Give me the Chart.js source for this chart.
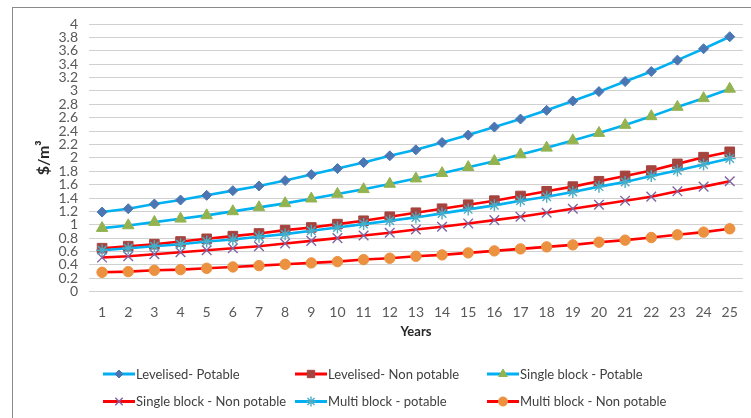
<!DOCTYPE html>
<html>
<head>
<meta charset="utf-8">
<script src="https://cdn.jsdelivr.net/npm/chart.js@4.4.1/dist/chart.umd.min.js"></script>
<style>
  html, body { margin: 0; padding: 0; background: #ffffff; }
  canvas { display: block; }
</style>
</head>
<body>
<canvas id="chart" width="751" height="418"></canvas>
<script>
// Years on the horizontal axis
const years = ['1','2','3','4','5','6','7','8','9','10','11','12','13','14','15','16','17','18','19','20','21','22','23','24','25'];

// Unit cost ($/m3) for each tariff structure
const levelisedPotable    = [1.19, 1.24, 1.31, 1.37, 1.44, 1.51, 1.58, 1.66, 1.75, 1.84, 1.93, 2.03, 2.12, 2.23, 2.34, 2.46, 2.58, 2.71, 2.85, 2.99, 3.14, 3.29, 3.46, 3.63, 3.81];
const levelisedNonPotable = [0.65, 0.68, 0.71, 0.75, 0.79, 0.83, 0.87, 0.92, 0.96, 1.01, 1.06, 1.12, 1.18, 1.24, 1.30, 1.36, 1.43, 1.50, 1.57, 1.65, 1.73, 1.81, 1.91, 2.01, 2.09];
const singleBlockPotable  = [0.95, 0.99, 1.04, 1.09, 1.14, 1.20, 1.26, 1.32, 1.39, 1.46, 1.53, 1.61, 1.69, 1.77, 1.86, 1.95, 2.05, 2.15, 2.26, 2.37, 2.49, 2.62, 2.76, 2.89, 3.03];
const singleBlockNonPot   = [0.51, 0.53, 0.56, 0.59, 0.62, 0.65, 0.68, 0.72, 0.76, 0.80, 0.84, 0.88, 0.93, 0.97, 1.02, 1.07, 1.12, 1.18, 1.24, 1.30, 1.36, 1.42, 1.50, 1.57, 1.65];
const multiBlockPotable   = [0.62, 0.65, 0.68, 0.71, 0.75, 0.78, 0.82, 0.86, 0.91, 0.96, 1.01, 1.06, 1.11, 1.17, 1.23, 1.29, 1.36, 1.42, 1.49, 1.57, 1.64, 1.73, 1.81, 1.90, 1.99];
const multiBlockNonPot    = [0.29, 0.30, 0.32, 0.33, 0.35, 0.37, 0.39, 0.41, 0.43, 0.45, 0.48, 0.50, 0.53, 0.55, 0.58, 0.61, 0.64, 0.67, 0.70, 0.74, 0.77, 0.81, 0.85, 0.89, 0.94];

// Value axis ticks
const yTickValues = [0, 0.2, 0.4, 0.6, 0.8, 1, 1.2, 1.4, 1.6, 1.8, 2, 2.2, 2.4, 2.6, 2.8, 3, 3.2, 3.4, 3.6, 3.8, 4];
const yTickLabels = ['0','0.2','0.4','0.6','0.8','1','1.2','1.4','1.6','1.8','2','2.2','2.4','2.6','2.8','3','3.2','3.4','3.6','3.8','4'];

const seriesNames = [
  'Levelised- Potable', 'Levelised- Non potable', 'Single block - Potable',
  'Single block - Non potable', 'Multi block - potable', 'Multi block - Non potable'
];

const BLUE_LINE = '#00b0f0';
const RED_LINE = '#ff0000';
const FONT = 'Lato, "Liberation Sans", Arial, sans-serif';

function series(i, data, lineColor, style, markerColor, radius, filled, legendRadius) {
  return {
    label: seriesNames[i],
    data: data,
    order: 10 - i,
    borderColor: lineColor,
    borderWidth: 2.6,
    tension: 0,
    fill: false,
    pointStyle: style,
    pointRadius: radius,
    pointHoverRadius: radius,
    pointBackgroundColor: filled ? markerColor : 'rgba(0,0,0,0)',
    pointBorderColor: markerColor,
    pointBorderWidth: filled ? 1 : 1.4,
    legendRadius: legendRadius
  };
}

const datasets = [
  series(0, levelisedPotable,    BLUE_LINE, 'rectRot',  '#4a76b4', 5,   true,  4),
  series(1, levelisedNonPotable, RED_LINE,  'rect',     '#a5443f', 6.8, true,  5.2),
  series(2, singleBlockPotable,  BLUE_LINE, 'triangle', '#93b350', 6.6, true,  5),
  series(3, singleBlockNonPot,   RED_LINE,  'crossRot', '#8064a2', 6.8, false, 5.2),
  series(4, multiBlockPotable,   BLUE_LINE, 'star',     '#4bacc6', 6,   false, 5),
  series(5, multiBlockNonPot,    RED_LINE,  'circle',   '#eb913f', 5.2, true,  4.5)
];

// Frame around the whole chart
const framePlugin = {
  id: 'frame',
  beforeDraw(chart) {
    const ctx = chart.ctx;
    ctx.save();
    ctx.fillStyle = '#ffffff';
    ctx.fillRect(0, 0, chart.width, chart.height);
    ctx.strokeStyle = '#8a8a8a';
    ctx.lineWidth = 1;
    ctx.strokeRect(12.5, 7.5, chart.width + 20, chart.height + 20);
    ctx.restore();
  }
};

// Two-row, three-column legend below the axis title
const gridLegendPlugin = {
  id: 'gridLegend',
  afterDraw(chart) {
    const ctx = chart.ctx;
    const colX = [103, 295, 487];
    const rowY = [374, 401.5];
    const lineLen = 32;
    ctx.save();
    chart.data.datasets.forEach((ds, i) => {
      const x0 = colX[i % 3];
      const y = rowY[Math.floor(i / 3)];
      ctx.strokeStyle = ds.borderColor;
      ctx.lineWidth = 3;
      ctx.beginPath();
      ctx.moveTo(x0, y);
      ctx.lineTo(x0 + lineLen, y);
      ctx.stroke();
      ctx.fillStyle = ds.pointBackgroundColor;
      ctx.strokeStyle = ds.pointBorderColor;
      ctx.lineWidth = ds.pointBorderWidth;
      Chart.helpers.drawPoint(ctx, {
        pointStyle: ds.pointStyle,
        radius: ds.legendRadius,
        borderWidth: ds.pointBorderWidth,
        rotation: 0
      }, x0 + lineLen / 2, y);
      // slightly condensed label text
      ctx.save();
      ctx.translate(x0 + lineLen + 1, y);
      ctx.scale(0.93, 1);
      ctx.fillStyle = '#404040';
      ctx.font = '14px ' + FONT;
      ctx.textBaseline = 'middle';
      ctx.textAlign = 'left';
      ctx.fillText(ds.label, 0, 0);
      ctx.restore();
    });
    ctx.restore();
  }
};

new Chart(document.getElementById('chart'), {
  type: 'line',
  data: { labels: years, datasets: datasets },
  plugins: [framePlugin, gridLegendPlugin],
  options: {
    responsive: false,
    devicePixelRatio: 1,
    animation: false,
    events: [],
    layout: { padding: { left: 0, right: 4, top: 24, bottom: 0 } },
    plugins: {
      legend: { display: false },
      tooltip: { enabled: false },
      title: { display: false }
    },
    scales: {
      x: {
        type: 'category',
        offset: true,
        grid: { display: false, drawTicks: false },
        border: { display: false },
        ticks: {
          color: '#595959',
          font: { family: FONT, size: 14 },
          padding: 12,
          maxRotation: 0,
          autoSkip: false
        },
        title: {
          display: true,
          text: 'Years',
          color: '#262626',
          font: { family: FONT, size: 13, weight: 'bold' },
          padding: { top: 0, bottom: 78 }
        },
        afterFit(scale) { scale.height = 126.3; }
      },
      y: {
        min: 0,
        max: 4,
        grid: { color: '#d0d0d0', lineWidth: 1, drawTicks: false },
        border: { display: false },
        afterBuildTicks(scale) {
          scale.ticks = yTickValues.map(v => ({ value: v }));
        },
        ticks: {
          color: '#595959',
          font: { family: FONT, size: 14 },
          padding: 11,
          autoSkip: false,
          callback: (value, index) => yTickLabels[index]
        },
        title: {
          display: true,
          text: '$/m³',
          color: '#262626',
          font: { family: FONT, size: 16, weight: 'bold' },
          padding: { top: 34, bottom: 0 }
        },
        afterFit(scale) { scale.width = 89; }
      }
    }
  }
});
</script>
</body>
</html>
